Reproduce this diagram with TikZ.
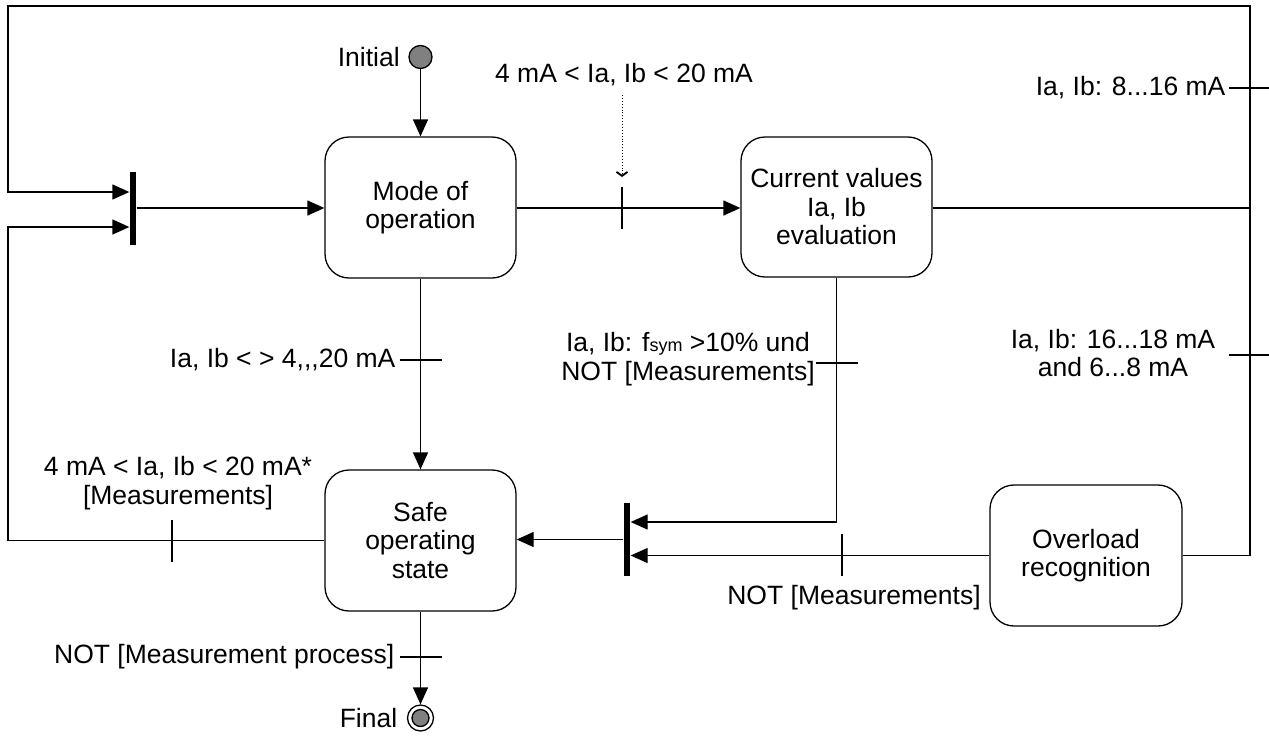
\documentclass[tikz,border=0pt]{standalone}
\usepackage{fontspec}
\setmainfont{Liberation Sans}
\usetikzlibrary{arrows.meta}
\newcommand\lblfont{\fontsize{26.5}{28.5}\selectfont}
\newcommand\subfont{\fontsize{18}{18}\selectfont}
\begin{document}
\begin{tikzpicture}[x=1pt,y=-1pt,
  line width=1.3pt,
  every node/.style={font=\lblfont, inner sep=0pt},
  statebox/.style={draw, rounded corners=24pt, minimum width=191pt, minimum height=141pt, align=center},
  syncbar/.style={fill=black, draw=none, minimum width=6pt, minimum height=73pt},
  conn/.style={-{Triangle[length=17pt,width=15pt]}},
  tickmark/.style={line width=1.2pt},
  guard/.style={align=center}
]
\useasboundingbox (0,0) rectangle (1269,740);

% helper coordinates for the routing of the long connectors
\coordinate (lx) at (8,0);
\coordinate (rx) at (1250,0);
\coordinate (topline) at (0,6);
\coordinate (rowA) at (0,208);
\coordinate (loopA) at (0,192);
\coordinate (loopB) at (0,227);
\coordinate (rowC) at (0,522);

% states
\node[statebox] (mode) at (420.5,207.5) {Mode of\\operation};
\node[statebox, minimum height=140pt] (cur)  at (836.5,207) {Current values\\Ia, Ib\\evaluation};
\node[statebox] (safe) at (420.5,540.5) {Safe\\operating\\state};
\node[statebox, minimum width=192pt] (ovl) at (1086,555.5) {Overload\\recognition};

% synchronisation bars
\node[syncbar] (bar1) at (133,208.5) {};
\node[syncbar] (bar2) at (627,539.5) {};

% initial and final pseudo states
\node[circle, draw, fill=gray, minimum size=23pt] (init) at (420.5,57) {};
\node[anchor=east] (initlbl) at ([xshift=-8pt]init.west) {Initial};
\node[circle, draw, minimum size=26pt] (fin) at (420.5,718) {};
\node[circle, draw, fill=gray, minimum size=17pt] (finc) at (fin.center) {};
\node[anchor=east] (finlbl) at ([xshift=-9pt]fin.west) {Final};

% initial transition
\draw[conn] (init) -- (init |- mode.north);

% join into mode of operation
\draw[conn] (bar1.east |- rowA) -- (mode.west |- rowA);

% mode of operation -> current values evaluation
\draw[conn] (mode.east |- rowA) -- (cur.west |- rowA);
\coordinate (k1) at (622,208);
\draw[tickmark] (k1) ++(0,-21) -- ++(0,42);
\coordinate (ev1) at (622,95);
\draw[line width=0.9pt, dotted, -{Straight Barb[length=4pt,width=11pt,line width=1.8pt]}] (ev1) -- (ev1 |- 0,177);
\node (g1) at (624,75) {4 mA < Ia, Ib < 20 mA};

% current values -> back to the join (8...16 mA) and to overload recognition
\draw[conn] (cur.east |- rowA) -- (rx |- rowA) -- (rx |- topline) -- (lx |- topline)
  -- (lx |- loopA) -- (bar1.west |- loopA);
\draw (rx |- rowA) -- (rx |- ovl.east) -- (ovl.east);
\coordinate (k2) at (1250,88);
\draw[tickmark] (k2) ++(-21,0) -- ++(40,0);
\node[anchor=east] (g2) at (1226,88) {Ia, Ib: 8...16 mA};
\coordinate (k3) at (1250,355);
\draw[tickmark] (k3) ++(-21,0) -- ++(40,0);
\node[guard] (g3) at (1113,353) {Ia, Ib: 16...18 mA\\and 6...8 mA};

% mode of operation -> safe operating state
\draw[conn] (mode.south) -- (safe.north);
\coordinate (k4) at (420.5,360);
\draw[tickmark] (k4) ++(-21,0) -- ++(42,0);
\node[anchor=east] (g4) at (396,360) {Ia, Ib < > 4{,}{,}{,}20 mA};

% current values -> join before safe operating state
\draw[conn] (cur.south) |- (bar2.east |- rowC);
\coordinate (k5) at (836.5,363);
\draw[tickmark] (k5) ++(-21,0) -- ++(42,0);
\node[guard] (g5) at (688,359) {Ia, Ib: f{\subfont sym} >10\% und\\NOT [Measurements]};

% overload recognition -> join
\draw[conn] (ovl.west) -- (bar2.east |- ovl.west);
\coordinate (k6) at (842,555);
\draw[tickmark] (k6) ++(0,-21) -- ++(0,42);
\node (g6) at (854,598) {NOT [Measurements]};

% join -> safe operating state
\draw[conn] (bar2.west) -- (safe.east |- bar2.west);

% safe operating state -> back to mode of operation
\draw[conn] (safe.west) -- (lx |- safe.west) -- (lx |- loopB) -- (bar1.west |- loopB);
\coordinate (k7) at (172,540.5);
\draw[tickmark] (k7) ++(0,-21) -- ++(0,42);
\node[guard] (g7) at (178,483) {4 mA < Ia, Ib < 20 mA*\\{}[Measurements]};

% safe operating state -> final
\draw[conn] (safe.south) -- (fin.north);
\coordinate (k8) at (420.5,657);
\draw[tickmark] (k8) ++(-21,0) -- ++(42,0);
\node[anchor=east] (g8) at (395,657) {NOT [Measurement process]};
\end{tikzpicture}
\end{document}
